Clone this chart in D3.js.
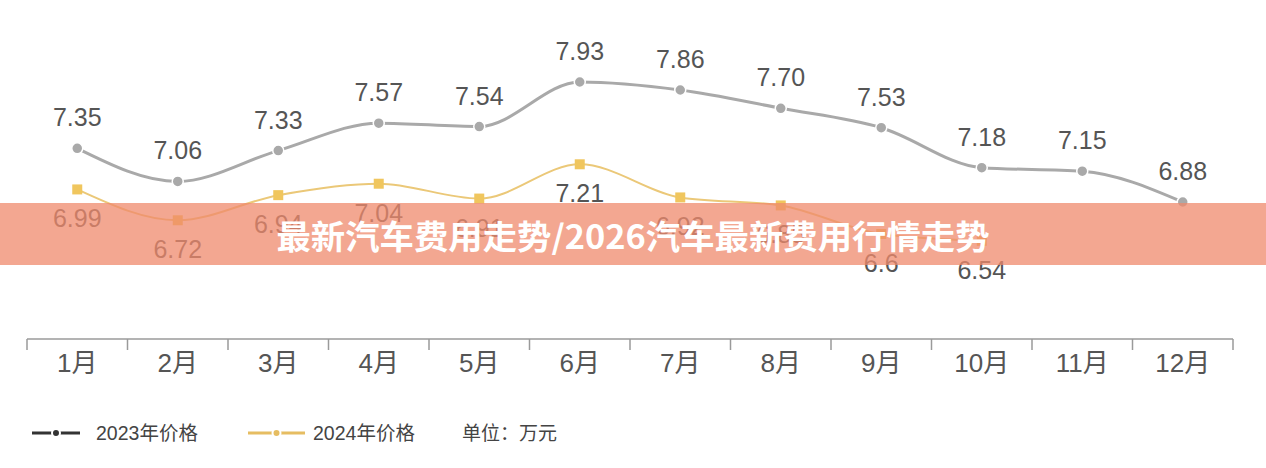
<!DOCTYPE html>
<html>
<head>
<meta charset="utf-8">
<script src="https://cdn.jsdelivr.net/npm/d3@7"></script>
<style>
  body { margin: 0; background: #fff; }
  svg { display: block; font-family: "Liberation Sans", Arial, "Noto Sans CJK SC", sans-serif; }
</style>
</head>
<body>
<svg width="1266" height="468"></svg>
<script>
var months = ['1月','2月','3月','4月','5月','6月','7月','8月','9月','10月','11月','12月'];
var price2023 = [7.35, 7.06, 7.33, 7.57, 7.54, 7.93, 7.86, 7.70, 7.53, 7.18, 7.15, 6.88];
var price2024 = [6.99, 6.72, 6.94, 7.04, 6.91, 7.21, 6.92, 6.85, 6.6, 6.54];
var seriesNames = ['2023年价格', '2024年价格'];
var unitLabel = '单位：万元';
var bannerText = '最新汽车费用走势/2026汽车最新费用行情走势';

var width = 1266;
var height = 468;

var svg = d3.select('svg');

var xScale = d3.scaleBand()
               .domain(months)
               .range([27, 1233]);

var yScale = d3.scaleLinear()
               .domain([6.88, 7.93])
               .range([202, 82]);

var xMid = (m) => xScale(m) + xScale.bandwidth() / 2;

var line = d3.line()
             .x((d, i) => xMid(months[i]))
             .y((d) => yScale(d))
             .curve(d3.curveMonotoneX);

// x axis
var axisG = svg.append('g')
               .attr('transform', 'translate(0,339)');

axisG.append('line')
     .attr('x1', 27).attr('x2', 1233)
     .attr('stroke', '#9a9a9a').attr('stroke-width', 1.5);

var bounds = months.map((m) => xScale(m)).concat([xScale.range()[1]]);
axisG.selectAll('.tick-line')
     .data(bounds)
     .enter()
     .append('line')
     .attr('x1', (d) => d).attr('x2', (d) => d)
     .attr('y1', 0).attr('y2', 11)
     .attr('stroke', '#9a9a9a').attr('stroke-width', 1.5);

axisG.selectAll('.tick-label')
     .data(months)
     .enter()
     .append('text')
     .attr('x', (d) => xMid(d))
     .attr('y', 33)
     .attr('text-anchor', 'middle')
     .style('font-size', '26px')
     .style('fill', '#555')
     .style('font-family', '"Liberation Sans", "Noto Sans CJK SC", sans-serif')
     .text((d) => d);

// 2023 line
svg.append('path')
   .datum(price2023)
   .attr('d', line)
   .attr('fill', 'none')
   .attr('stroke', '#a9a9a9')
   .attr('stroke-width', 3);

svg.selectAll('.dot23')
   .data(price2023)
   .enter()
   .append('circle')
   .attr('cx', (d, i) => xMid(months[i]))
   .attr('cy', (d) => yScale(d))
   .attr('r', 5.5)
   .attr('fill', '#a9a9a9')
   .attr('stroke', '#fff')
   .attr('stroke-width', 1.5);

svg.selectAll('.lab23')
   .data(price2023)
   .enter()
   .append('text')
   .attr('x', (d, i) => xMid(months[i]))
   .attr('y', (d) => yScale(d) - 22)
   .attr('text-anchor', 'middle')
   .style('font-size', '25px')
   .style('fill', '#555')
   .text((d) => d.toFixed(2));

// 2024 line
svg.append('path')
   .datum(price2024)
   .attr('d', line)
   .attr('fill', 'none')
   .attr('stroke', '#ebc878')
   .attr('stroke-width', 2);

svg.selectAll('.dot24')
   .data(price2024)
   .enter()
   .append('rect')
   .attr('x', (d, i) => xMid(months[i]) - 5)
   .attr('y', (d) => yScale(d) - 5)
   .attr('width', 10)
   .attr('height', 10)
   .attr('fill', '#f0c65e');

svg.selectAll('.lab24')
   .data(price2024)
   .enter()
   .append('text')
   .attr('x', (d, i) => xMid(months[i]))
   .attr('y', (d) => yScale(d) + 38)
   .attr('text-anchor', 'middle')
   .style('font-size', '25px')
   .style('fill', '#555')
   .text((d) => String(d));

// legend
var legendData = [[seriesNames[0], '#333', 32, 80, 96], [seriesNames[1], '#e6bd62', 248, 305, 313]];
var legend = svg.selectAll('.legend')
                .data(legendData)
                .enter()
                .append('g');

legend.append('line')
      .attr('x1', (d) => d[2]).attr('x2', (d) => d[3])
      .attr('y1', 433).attr('y2', 433)
      .attr('stroke', (d) => d[1])
      .attr('stroke-width', 3);

legend.append('circle')
      .attr('cx', (d) => (d[2] + d[3]) / 2)
      .attr('cy', 433)
      .attr('r', 4)
      .attr('fill', (d) => d[1])
      .attr('stroke', '#fff')
      .attr('stroke-width', 2);

legend.append('text')
      .attr('x', (d) => d[4])
      .attr('y', 440)
      .style('font-size', '19.5px')
      .style('fill', '#444')
      .style('font-family', '"Liberation Sans", "Noto Sans CJK SC", sans-serif')
      .text((d) => d[0]);

svg.append('text')
   .attr('x', 462)
   .attr('y', 440)
   .style('font-size', '19px')
   .style('fill', '#444')
   .style('font-family', '"Noto Sans CJK SC", sans-serif')
   .text(unitLabel);

// banner overlay
svg.append('rect')
   .attr('x', 0).attr('y', 203)
   .attr('width', width).attr('height', 62)
   .attr('fill', '#ef8a6c')
   .attr('opacity', 0.75);

svg.append('text')
   .attr('x', 633)
   .attr('y', 249)
   .attr('text-anchor', 'middle')
   .attr('textLength', 713)
   .attr('lengthAdjust', 'spacingAndGlyphs')
   .style('font-size', '33px')
   .style('font-weight', 'bold')
   .style('fill', '#fff')
   .style('font-family', '"Noto Sans CJK SC", sans-serif')
   .text(bannerText);
</script>
</body>
</html>
